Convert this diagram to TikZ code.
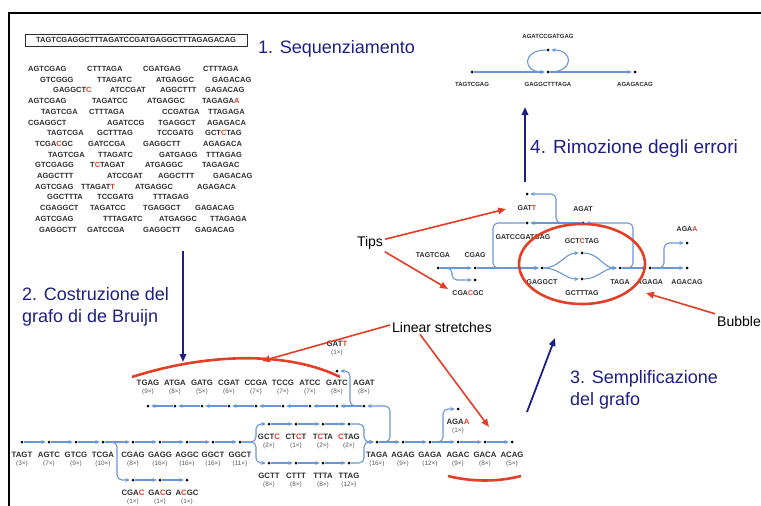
\documentclass[tikz,border=0pt]{standalone}
\usepackage{fontspec}
\setmainfont{Liberation Sans}
\usepackage{tikz}
\usetikzlibrary{arrows.meta}
\definecolor{navy}{RGB}{30,30,135}
\definecolor{annored}{RGB}{228,62,38}
\definecolor{edgeblue}{RGB}{105,150,212}
\definecolor{dnagray}{RGB}{45,45,45}
\tikzstyle{kdot}=[circle, fill=black, inner sep=0pt, minimum size=3pt]
\tikzstyle{dbedge}=[draw=edgeblue, line width=1.1pt, -{Stealth[length=4.5pt,width=4pt]}, shorten >=1.5pt, rounded corners=5pt]
\tikzstyle{seq}=[inner sep=0pt, text=dnagray, font=\fontsize{7.5}{8}\selectfont\bfseries]
\tikzstyle{klab}=[inner sep=0pt, text=dnagray, font=\fontsize{7.8}{8}\selectfont\bfseries]
\tikzstyle{kcnt}=[inner sep=0pt, text=dnagray!80, font=\fontsize{6.4}{7}\selectfont]
\tikzstyle{glab}=[inner sep=0pt, text=dnagray, font=\fontsize{7}{8}\selectfont\bfseries]
\tikzstyle{tlab}=[inner sep=0pt, text=dnagray, font=\fontsize{6}{7}\selectfont\bfseries]
\tikzstyle{stage}=[inner sep=0pt, anchor=west, align=left, text=navy, font=\fontsize{18}{21.5}\selectfont]
\tikzstyle{note}=[inner sep=2pt, font=\fontsize{14}{16}\selectfont]
\tikzstyle{redarrow}=[draw=annored, line width=1.6pt, -{Triangle[length=8pt,width=6.5pt]}]
\tikzstyle{redmark}=[draw=annored, line width=2.6pt]
\tikzstyle{stagearrow}=[draw=navy, line width=1.8pt, -{Triangle[length=8pt,width=6.5pt]}]
\newcommand{\err}[1]{\textcolor{annored}{#1}}
% k-mer dot with its label and count
\newcommand{\kmerup}[4]{
	\node[kdot] (#1) at #2 {};
	\node[kcnt, yshift=14pt] (#1c) at (#1) {#4};
	\node[klab, yshift=23pt] (#1l) at (#1) {#3};
}
\newcommand{\kmerdown}[4]{
	\node[kdot] (#1) at #2 {};
	\node[klab, yshift=-13pt] (#1l) at (#1) {#3};
	\node[kcnt, yshift=-22pt] (#1c) at (#1) {#4};
}
\newcommand{\gkmer}[4]{
	\node[kdot] (#1) at #2 {};
	\node[#4] (#1l) at (#1) {#3};
}
\newcommand{\readrow}[2]{
	\foreach \x/\rd in {#2}
		\node[seq, anchor=west] (r#1-\x) at (\x,{69+(#1-1)*10.7}) {\rd};
}

\begin{document}
\begin{tikzpicture}[x=1pt, y=-1pt]
	\useasboundingbox (0,0) rectangle (761,506);
	\draw[line width=2.6pt] (9,506) -- (9,13) -- (761,13);

	% reads
	\node[seq, draw=dnagray, line width=0.8pt, minimum width=222pt, minimum height=12pt] (genome) at (136,40) {TAGTCGAGGCTTTAGATCCGATGAGGCTTTAGAGACAG};
	\readrow{1}{28/AGTCGAG, 87/CTTTAGA, 143/CGATGAG, 203/CTTTAGA}
	\readrow{2}{40/GTCGGG, 97/TTAGATC, 156/ATGAGGC, 212/GAGACAG}
	\readrow{3}{53/GAGGCT\err{C}, 110/ATCCGAT, 160/AGGCTTT, 205/GAGACAG}
	\readrow{4}{28/AGTCGAG, 92/TAGATCC, 147/ATGAGGC, 202/TAGAGA\err{A}}
	\readrow{5}{41/TAGTCGA, 89/CTTTAGA, 162/CCGATGA, 208/TTAGAGA}
	\readrow{6}{28/CGAGGCT, 107/AGATCCG, 158/TGAGGCT, 207/AGAGACA}
	\readrow{7}{47/TAGTCGA, 97/GCTTTAG, 157/TCCGATG, 205/GCT\err{C}TAG}
	\readrow{8}{35/TCGA\err{C}GC, 88/GATCCGA, 143/GAGGCTT, 203/AGAGACA}
	\readrow{9}{48/TAGTCGA, 98/TTAGATC, 159/GATGAGG, 206/TTTAGAG}
	\readrow{10}{35/GTCGAGG, 90/T\err{C}TAGAT, 145/ATGAGGC, 202/TAGAGAC}
	\readrow{11}{37/AGGCTTT, 107/ATCCGAT, 158/AGGCTTT, 213/GAGACAG}
	\readrow{12}{35/AGTCGAG, 81/TTAGAT\err{T}, 135/ATGAGGC, 197/AGAGACA}
	\readrow{13}{47/GGCTTTA, 97/TCCGATG, 153/TTTAGAG}
	\readrow{14}{40/CGAGGCT, 90/TAGATCC, 143/TGAGGCT, 195/GAGACAG}
	\readrow{15}{35/AGTCGAG, 103/TTTAGATC, 159/ATGAGGC, 210/TTAGAGA}
	\readrow{16}{39/GAGGCTT, 87/GATCCGA, 143/GAGGCTT, 195/GAGACAG}

	% stages
	\node[stage] (st1) at (258,49) {1. Sequenziamento};
	\node[stage] (st2) at (22,307) {2. Costruzione del\\grafo di de Bruijn};
	\node[stage] (st3) at (570,390) {3. Semplificazione\\del grafo};
	\node[stage, font=\fontsize{19}{22}\selectfont] (st4) at (530,149) {4. Rimozione degli errori};
	\coordinate (s1a) at (183,251); \coordinate (s1b) at (183,362);
	\coordinate (s3a) at (527,412); \coordinate (s3b) at (555,338);
	\coordinate (s4a) at (525,182); \coordinate (s4b) at (525,107);
	\draw[stagearrow] (s1a) -- (s1b);
	\draw[stagearrow] (s3a) -- (s3b);
	\draw[stagearrow] (s4a) -- (s4b);

	% de Bruijn graph
	\kmerup{tgag}{(148,406)}{TGAG}{(9×)}
	\kmerup{atga}{(175,406)}{ATGA}{(8×)}
	\kmerup{gatg}{(202,406)}{GATG}{(5×)}
	\kmerup{cgat}{(229,406)}{CGAT}{(6×)}
	\kmerup{ccga}{(256,406)}{CCGA}{(7×)}
	\kmerup{tccg}{(283,406)}{TCCG}{(7×)}
	\kmerup{atcc}{(310,406)}{ATCC}{(7×)}
	\kmerup{gatc}{(337,406)}{GATC}{(8×)}
	\kmerup{agat}{(364,406)}{AGAT}{(8×)}
	\node[kdot] (gatt) at (337,371) {};
	\node[kcnt, yshift=18pt] (gattc) at (gatt) {(1×)};
	\node[klab, yshift=27pt] (gattl) at (gatt) {GAT\err{T}};
	\kmerdown{tagt}{(22,442)}{TAGT}{(3×)}
	\kmerdown{agtc}{(49,442)}{AGTC}{(7×)}
	\kmerdown{gtcg}{(76,442)}{GTCG}{(9×)}
	\kmerdown{tcga}{(103,442)}{TCGA}{(10×)}
	\kmerdown{cgag}{(133,442)}{CGAG}{(8×)}
	\kmerdown{gagg}{(160,442)}{GAGG}{(16×)}
	\kmerdown{aggc}{(187,442)}{AGGC}{(16×)}
	\kmerdown{ggct}{(213,442)}{GGCT}{(16×)}
	\kmerdown{ggctb}{(240,442)}{GGCT}{(11×)}
	\kmerdown{cgac}{(133,480)}{CGA\err{C}}{(1×)}
	\kmerdown{gacg}{(160,480)}{GA\err{C}G}{(1×)}
	\kmerdown{acgc}{(187,480)}{A\err{C}GC}{(1×)}
	\kmerdown{gctc}{(269,424)}{GCT\err{C}}{(2×)}
	\kmerdown{ctct}{(296,424)}{CT\err{C}T}{(1×)}
	\kmerdown{tcta}{(323,424)}{T\err{C}TA}{(2×)}
	\kmerdown{ctag}{(349,424)}{\err{C}TAG}{(2×)}
	\kmerdown{gctt}{(269,463)}{GCTT}{(8×)}
	\kmerdown{cttt}{(296,463)}{CTTT}{(8×)}
	\kmerdown{ttta}{(323,463)}{TTTA}{(8×)}
	\kmerdown{ttag}{(349,463)}{TTAG}{(12×)}
	\kmerdown{taga}{(377,442)}{TAGA}{(16×)}
	\kmerdown{agag}{(403,442)}{AGAG}{(9×)}
	\kmerdown{gaga}{(430,442)}{GAGA}{(12×)}
	\kmerdown{agac}{(458,442)}{AGAC}{(9×)}
	\kmerdown{gaca}{(485,442)}{GACA}{(8×)}
	\kmerdown{acag}{(512,442)}{ACAG}{(5×)}
	\kmerdown{agaa}{(458,409)}{AGA\err{A}}{(1×)}
	\foreach \a/\b in {agat/gatc, gatc/atcc, atcc/tccg, tccg/ccga, ccga/cgat, cgat/gatg, gatg/atga, atga/tgag,
		tagt/agtc, agtc/gtcg, gtcg/tcga, tcga/cgag, cgag/gagg, gagg/aggc, aggc/ggct, ggct/ggctb,
		cgac/gacg, gacg/acgc, gctc/ctct, ctct/tcta, tcta/ctag, gctt/cttt, cttt/ttta, ttta/ttag,
		taga/agag, agag/gaga, gaga/agac, agac/gaca, gaca/acag}
		\draw[dbedge] (\a) -- (\b);
	\draw[dbedge] (tcga) -- (117,442) |- (cgac);
	\draw[dbedge] (ggctb) -- (256,442) |- (gctc);
	\draw[dbedge] (ggctb) -- (256,442) |- (gctt);
	\draw[dbedge] (ctag) -- (364,424) |- (taga);
	\draw[dbedge] (ttag) -- (364,463) |- (taga);
	\draw[dbedge] (taga) -- (390,442) |- (agat);
	\draw[dbedge] (gaga) -- (443,442) |- (agaa);
	\draw[dbedge] (agat) -- (350,406) |- (gatt);

	% simplified graph
	\gkmer{gatt2}{(527,194)}{GAT\err{T}}{glab, yshift=-14pt}
	\gkmer{gatcc}{(527,223)}{GATCCGATGAG}{glab, xshift=-4pt, yshift=-14pt}
	\gkmer{agat2}{(583,223)}{AGAT}{glab, yshift=14pt}
	\gkmer{tagtcga}{(438,268)}{TAGTCGA}{glab, xshift=-5pt, yshift=13pt}
	\gkmer{cgag2}{(475,268)}{CGAG}{glab, yshift=13pt}
	\gkmer{cgacgc}{(475,280)}{CGA\err{C}GC}{glab, xshift=-7pt, yshift=-13pt}
	\gkmer{gaggct}{(542,268)}{GAGGCT}{glab, yshift=-14pt}
	\gkmer{gctctag}{(582,253)}{GCT\err{C}TAG}{glab, yshift=12pt}
	\gkmer{gctttag}{(582,279)}{GCTTTAG}{glab, yshift=-14pt}
	\gkmer{taga2}{(620,268)}{TAGA}{glab, yshift=-14pt}
	\gkmer{agaga}{(650,268)}{AGAGA}{glab, yshift=-14pt}
	\gkmer{agacag}{(687,268)}{AGACAG}{glab, yshift=-14pt}
	\gkmer{agaa2}{(687,243)}{AGA\err{A}}{glab, yshift=14pt}
	\draw[dbedge] (tagtcga) -- (cgag2);
	\draw[dbedge] (tagtcga) -- (452,268) |- (cgacgc);
	\draw[dbedge] (cgag2) -- (gaggct);
	\draw[dbedge] (gatcc) -- (493,223) |- (gaggct);
	\draw[dbedge] (gaggct) to[out=0,in=180] (gctctag);
	\draw[dbedge] (gaggct) to[out=0,in=180] (gctttag);
	\draw[dbedge] (gctctag) to[out=0,in=180] (taga2);
	\draw[dbedge] (gctttag) to[out=0,in=180] (taga2);
	\draw[dbedge] (taga2) -- (agaga);
	\draw[dbedge] (taga2) -- (633,268) |- (agat2);
	\draw[dbedge] (agat2) -- (gatcc);
	\draw[dbedge] (agat2) -- (556,223) |- (gatt2);
	\draw[dbedge] (agaga) -- (agacag);
	\draw[dbedge] (agaga) -- (664,268) |- (agaa2);

	% final graph
	\gkmer{tleft}{(472,72)}{TAGTCGAG}{tlab, yshift=-12pt}
	\gkmer{tmid}{(548,72)}{GAGGCTTTAGA}{tlab, yshift=-12pt}
	\gkmer{tright}{(635,72)}{AGAGACAG}{tlab, yshift=-12pt}
	\gkmer{tloop}{(548,50)}{AGATCCGATGAG}{tlab, yshift=14pt}
	\draw[dbedge] (tleft) -- (tmid);
	\draw[dbedge] (tmid) -- (tright);
	\draw[dbedge] (tmid) .. controls (574,72) and (574,50) .. (tloop);
	\draw[dbedge] (tloop) .. controls (522,50) and (522,72) .. (tmid);

	% annotations
	\draw[redmark] (582,264) ellipse [x radius=63pt, y radius=40pt];
	\draw[redmark] (132,377) .. controls (210,352) and (290,352) .. (340,377);
	\draw[redmark] (448,476) .. controls (472,482) and (498,482) .. (521,476);
	\node[note] (tips) at (370,243) {Tips};
	\node[note, anchor=west] (bubble) at (715,321) {Bubble};
	\node[note] (linear) at (442,327) {Linear stretches};
	\coordinate (tipA) at (506,209);
	\coordinate (tipB) at (448,289);
	\coordinate (bubA) at (646,293);
	\coordinate (linA) at (262,361);
	\coordinate (linB) at (489,427);
	\draw[redarrow] (tips) -- (tipA);
	\draw[redarrow] (tips) -- (tipB);
	\draw[redarrow] (bubble) -- (bubA);
	\draw[redarrow] ([yshift=2pt]linear.west) -- (linA);
	\draw[redarrow] ([xshift=-22pt]linear.south) -- (linB);
\end{tikzpicture}
\end{document}
